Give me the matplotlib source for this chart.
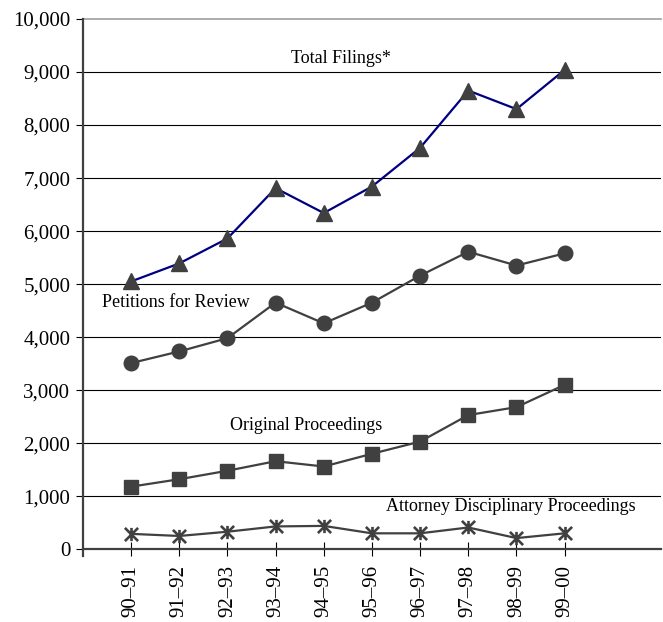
import matplotlib
matplotlib.use("Agg")
import matplotlib.pyplot as plt
from matplotlib.path import Path

categories = ["90–91", "91–92", "92–93", "93–94", "94–95", "95–96", "96–97", "97–98", "98–99", "99–00"]
total_filings = [5050, 5390, 5860, 6810, 6340, 6840, 7570, 8650, 8300, 9040]
petitions = [3510, 3730, 3980, 4650, 4260, 4650, 5160, 5610, 5350, 5580]
original = [1180, 1320, 1480, 1660, 1560, 1800, 2030, 2530, 2680, 3100]
attorney = [290, 250, 330, 430, 440, 300, 300, 410, 210, 300]
yticks = [0, 1000, 2000, 3000, 4000, 5000, 6000, 7000, 8000, 9000, 10000]
ytick_labels = ["0", "1,000", "2,000", "3,000", "4,000", "5,000", "6,000", "7,000", "8,000", "9,000", "10,000"]

plt.rcParams['font.family'] = ['Liberation Serif', 'DejaVu Serif']

fig = plt.figure(figsize=(6.63, 6.22), dpi=100)
ax = fig.add_axes([0.125, 0.117, 0.872, 0.8525])

x = list(range(len(categories)))
gray = "#404040"

star = Path([(-1, -1), (1, 1), (-1, 1), (1, -1), (0, -1), (0, 1)],
            [Path.MOVETO, Path.LINETO, Path.MOVETO, Path.LINETO, Path.MOVETO, Path.LINETO])

ax.plot(x, total_filings, color="#000080", lw=1.6, marker="^", ms=11.5,
        mfc=gray, mec=gray, zorder=5)
ax.plot(x, petitions, color=gray, lw=1.6, marker="o", ms=10.5,
        mfc=gray, mec=gray, zorder=5)
ax.plot(x, original, color=gray, lw=1.6, marker="s", ms=10,
        mfc=gray, mec=gray, zorder=5)
ax.plot(x, attorney, color=gray, lw=1.6, marker=star, ms=9.5,
        mfc=gray, mec=gray, mew=1.9, zorder=5)

ax.set_xlim(-1, 11)
ax.set_ylim(0, 10000)
ax.set_yticks(yticks)
ax.set_yticklabels(ytick_labels, fontsize=15)
ax.set_xticks(x)
ax.set_xticklabels(categories, rotation=90, fontsize=15)

for v in yticks[1:-1]:
    ax.axhline(v, color="black", lw=0.8, zorder=1)
ax.axhline(10000, color="#a0a0a0", lw=1.2, zorder=1, clip_on=False)

for s in ["top", "right"]:
    ax.spines[s].set_visible(False)
ax.spines["left"].set_color(gray)
ax.spines["left"].set_linewidth(1.6)
ax.spines["left"].set_bounds(-120, 10000)
ax.spines["bottom"].set_color(gray)
ax.spines["bottom"].set_linewidth(1.6)

ax.tick_params(axis="y", direction="out", length=5, width=0.8, color="black", pad=4)
ax.tick_params(axis="x", direction="inout", length=10, width=0.8, color="black", pad=6)

ax.text(4.35, 9250, "Total Filings*", fontsize=13, ha="center", va="center")
ax.text(-0.6, 4650, "Petitions for Review", fontsize=13, ha="left", va="center")
ax.text(2.05, 2330, "Original Proceedings", fontsize=13, ha="left", va="center")
ax.text(5.3, 800, "Attorney Disciplinary Proceedings", fontsize=13, ha="left", va="center")

fig.savefig("out.png", dpi=100)
